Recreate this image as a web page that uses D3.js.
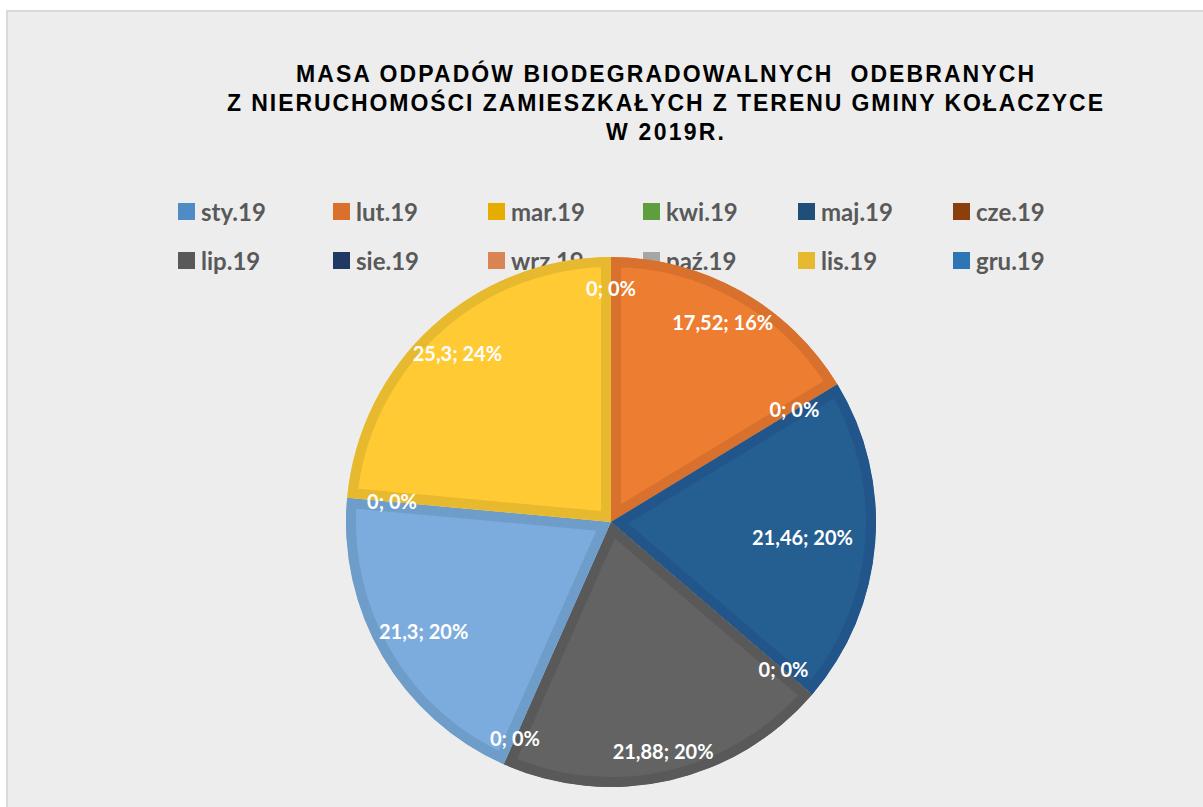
<!DOCTYPE html>
<html>
<head>
<meta charset="utf-8">
<script src="https://cdn.jsdelivr.net/npm/d3@7"></script>
<style>
  html, body { margin: 0; padding: 0; background: #ffffff; }
  svg { display: block; }
</style>
</head>
<body>
<div id="chart"></div>
<script>
// ---------- data ----------
const titleLines = [
  "MASA ODPADÓW BIODEGRADOWALNYCH  ODEBRANYCH",
  "Z NIERUCHOMOŚCI ZAMIESZKAŁYCH Z TERENU GMINY KOŁACZYCE",
  "W 2019R."
];
const months = ["sty.19", "lut.19", "mar.19", "kwi.19", "maj.19", "cze.19",
                "lip.19", "sie.19", "wrz.19", "paź.19", "lis.19", "gru.19"];
const values = [0, 17.52, 0, 0, 21.46, 0, 21.88, 0, 21.3, 0, 25.3, 0];
const legendColors = ["#4f8bc4", "#d9702c", "#e6ac00", "#5e9e3f", "#1f4e79", "#8b3f0c",
                      "#595959", "#203864", "#d98553", "#a6a6a6", "#e6b92f", "#2e75b6"];
const sliceColors = ["#5b9bd5", "#ed7d31", "#ffc000", "#70ad47", "#255e91", "#9e480e",
                     "#636363", "#264478", "#7cabdd", "#a5a5a5", "#ffca33", "#2e75b6"];
const sliceBorders = ["#4f8bc4", "#d8712d", "#e6ac00", "#5e9e3f", "#22558a", "#8b3f0c",
                      "#595959", "#203864", "#6f9dc9", "#959595", "#e6b92f", "#2a6aa5"];

// ---------- layout ----------
const W = 1203, H = 807;
const cx = 611, cy = 522, R = 265;
// radial position of each data label, as a fraction of the radius
const labelRadius = [0.88, 0.86, 0.81, 0.81, 0.725, 0.857, 0.89, 0.895, 0.82, 0.83, 0.86, 0.88];

const svg = d3.select("#chart").append("svg")
  .attr("width", W).attr("height", H);

// chart area
svg.append("rect")
  .attr("x", 7).attr("y", 11).attr("width", W + 10).attr("height", H + 10)
  .attr("fill", "#ededed").attr("stroke", "#d9d9d9").attr("stroke-width", 2);

// title
const titleY = [82, 111, 140];
const titleW = [738, 876, 118];
svg.append("g").selectAll("text").data(titleLines).join("text")
  .attr("x", 665)
  .attr("y", (d, i) => titleY[i])
  .attr("text-anchor", "middle")
  .attr("font-family", "'Liberation Sans', Arial, sans-serif")
  .attr("font-weight", "bold")
  .attr("font-size", 23)
  .attr("fill", "#000")
  .style("white-space", "pre")
  .attr("textLength", (d, i) => titleW[i])
  .attr("lengthAdjust", "spacing")
  .text(d => d);

// legend
const legend = svg.append("g");
const legItems = legend.selectAll("g").data(months).join("g")
  .attr("transform", (d, i) => `translate(${178 + (i % 6) * 155},${212 + Math.floor(i / 6) * 49})`);
legItems.append("rect")
  .attr("x", 0).attr("y", -9).attr("width", 17).attr("height", 17)
  .attr("fill", (d, i) => legendColors[i]);
legItems.append("text")
  .attr("x", 23).attr("y", 1).attr("dy", "0.35em")
  .attr("font-family", "Lato, 'Open Sans', sans-serif")
  .attr("font-weight", "bold")
  .attr("font-size", 24)
  .attr("fill", "#595959")
  .text(d => d);

// pie
const pie = d3.pie().sort(null).value(d => d.v);
const data = months.map((m, i) => ({ m, v: values[i], i }));
const arcs = pie(data);
const arc = d3.arc().innerRadius(0).outerRadius(R);

const defs = svg.append("defs");

arcs.forEach(a => {
  if (a.data.v <= 0) return;
  const id = "clip" + a.data.i;
  defs.append("clipPath").attr("id", id)
    .append("path").attr("d", arc(a)).attr("transform", `translate(${cx},${cy})`);
  const g = svg.append("g").attr("clip-path", `url(#${id})`);
  g.append("path")
    .attr("transform", `translate(${cx},${cy})`)
    .attr("d", arc(a))
    .attr("fill", sliceColors[a.data.i])
    .attr("stroke", sliceBorders[a.data.i])
    .attr("stroke-width", 20)
    .attr("stroke-linejoin", "miter");
});

// data labels
const total = d3.sum(values);
const fmt = v => String(v).replace(".", ",");
const placed = [];
const labG = svg.append("g");
arcs.forEach(a => {
  const i = a.data.i;
  const mid = (a.startAngle + a.endAngle) / 2;
  const r = R * labelRadius[i];
  const x = cx + r * Math.sin(mid);
  const y = cy - r * Math.cos(mid);
  if (placed.some(p => Math.hypot(p[0] - x, p[1] - y) < 12)) return;
  placed.push([x, y]);
  labG.append("text")
    .attr("x", x).attr("y", y).attr("dy", "0.35em")
    .attr("text-anchor", "middle")
    .attr("font-family", "Lato, 'Open Sans', sans-serif")
    .attr("font-weight", "bold")
    .attr("font-size", 20)
    .attr("fill", "#ffffff")
    .text(`${fmt(a.data.v)}; ${Math.round(a.data.v / total * 100)}%`);
});
</script>
</body>
</html>
